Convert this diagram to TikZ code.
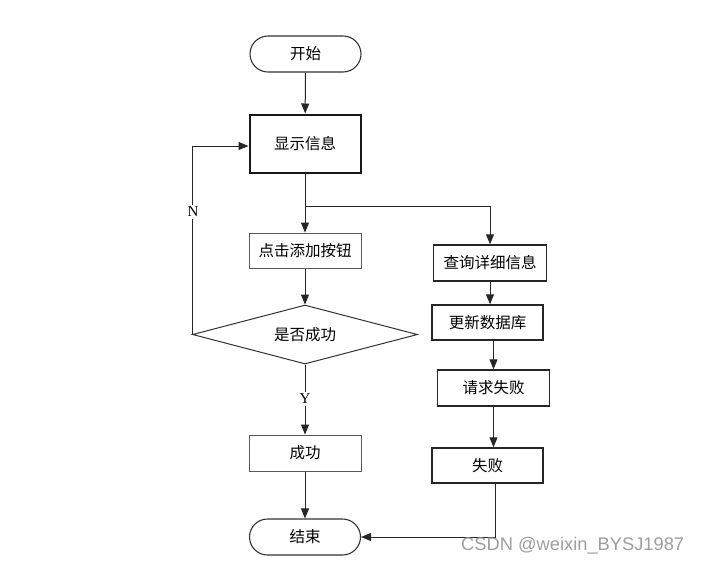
\documentclass[tikz,border=0pt]{standalone}
\usepackage{fontspec}
\setmainfont{Liberation Serif}
\newfontfamily\cjk{Noto Sans CJK SC}
\newfontfamily\wmfont{Liberation Sans}
\usetikzlibrary{arrows.meta,shapes.geometric,calc}
\begin{document}
\begin{tikzpicture}[x=1pt,y=-1pt,
  every node/.style={font=\cjk\fontsize{15.5}{18}\selectfont, inner sep=0pt},
  box/.style={draw=black!85, line width=1.5pt, rectangle, minimum height=36pt},
  lightbox/.style={draw=black!65, line width=1pt, rectangle, minimum height=36pt},
  thickbox/.style={draw=black!90, line width=2pt, rectangle},
  term/.style={draw=black!80, line width=1.1pt, rectangle, rounded corners=18pt, minimum width=111pt, minimum height=36pt},
  decision/.style={draw=black!80, line width=1pt, diamond, shape aspect=3.8, minimum width=225pt, minimum height=59pt},
  conn/.style={draw=black!85, line width=1pt, -{Triangle[width=8pt,length=10pt]}},
  lab/.style={fill=white, font=\fontsize{15}{17}\selectfont, inner sep=2pt}
]
\useasboundingbox (0,0) rectangle (701,566);
\fill[white] (0,0) rectangle (701,566);

\node[term] (start) at (305.5,54) {开始};
\node[thickbox, minimum width=111pt, minimum height=58pt] (show) at (305,143.5) {显示信息};
\node[lightbox, minimum width=112pt, minimum height=35pt] (add) at (305,250.5) {点击添加按钮};
\node[decision] (dec) at (305,334.5) {是否成功};
\node[lightbox, minimum width=112pt] (succ) at (305,453) {成功};
\node[term] (end) at (305,537) {结束};

\node[box, minimum width=113pt] (query) at (490,263) {查询详细信息};
\node[box, minimum width=111pt, minimum height=35pt] (update) at (487.5,322.5) {更新数据库};
\node[box, minimum width=112pt] (req) at (493.5,388) {请求失败};
\node[box, minimum width=111pt, minimum height=35pt] (fail) at (487.5,465.5) {失败};

\coordinate (sp) at (305,206);

\draw[conn] (start) -- (show);
\draw[conn] (show.south) -- (add.north);
\draw[conn] (sp) -| (query.north);
\draw[conn] (add) -- (dec);
\draw[conn] (dec.west) |- ([yshift=-2.5pt]show.west);
\node[lab] (nlab) at (193,212) {N};
\draw[conn] (dec.south) -- (succ.north);
\node[lab] (ylab) at (305,399) {Y};
\draw[conn] (succ) -- (end);

\draw[conn] (query.south) -- (query.south |- update.north);
\draw[conn] (req.north |- update.south) -- (req.north);
\draw[conn] (req.south) -- (req.south |- fail.north);
\draw[conn] ([xshift=7.5pt]fail.south) |- (end.east);

\node[font=\wmfont\fontsize{18.3}{20}\selectfont, text=black!38, anchor=west] (wm) at (461,546) {CSDN @weixin\_BYSJ1987};
\end{tikzpicture}
\end{document}
